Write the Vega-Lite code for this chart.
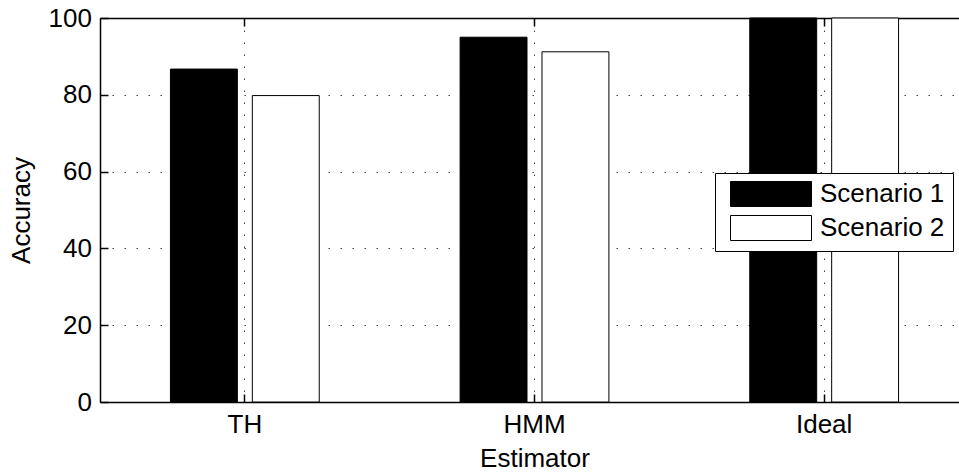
{
  "$schema": "https://vega.github.io/schema/vega-lite/v6.json",
  "width": 859,
  "height": 384,
  "autosize": {"type": "none"},
  "padding": {"left": 100, "top": 18, "right": 0, "bottom": 70},
  "background": "white",
  "config": {
    "view": {"stroke": null},
    "font": "Liberation Sans",
    "axis": {
      "domainColor": "black",
      "domainWidth": 1.5,
      "tickColor": "black",
      "tickWidth": 1.5,
      "labelColor": "black",
      "titleColor": "black",
      "labelFont": "Liberation Sans",
      "titleFont": "Liberation Sans",
      "titleFontWeight": "normal"
    }
  },
  "data": {
    "values": [
      {"Estimator": "TH", "Scenario": "Scenario 1", "Accuracy": 86.7},
      {"Estimator": "TH", "Scenario": "Scenario 2", "Accuracy": 79.8},
      {"Estimator": "HMM", "Scenario": "Scenario 1", "Accuracy": 95.0},
      {"Estimator": "HMM", "Scenario": "Scenario 2", "Accuracy": 91.2},
      {"Estimator": "Ideal", "Scenario": "Scenario 1", "Accuracy": 100},
      {"Estimator": "Ideal", "Scenario": "Scenario 2", "Accuracy": 100}
    ]
  },
  "layer": [
    {
      "mark": {"type": "bar", "stroke": "black", "strokeWidth": 1},
      "encoding": {
        "x": {
          "field": "Estimator",
          "type": "nominal",
          "sort": ["TH", "HMM", "Ideal"],
          "scale": {"range": [0, 869], "paddingInner": 0, "paddingOuter": 0},
          "axis": {
            "orient": "bottom",
            "labelAngle": 0,
            "tickSize": -8,
            "labelPadding": 17.3,
            "labelFontSize": 26,
            "grid": true,
            "gridDash": [1.5, 10.5],
            "gridColor": "#444",
            "gridWidth": 1,
            "title": "Estimator",
            "titleFontSize": 26,
            "titleBaseline": "alphabetic",
            "titleY": 64
          }
        },
        "xOffset": {
          "field": "Scenario",
          "type": "nominal",
          "scale": {"paddingInner": 0.183, "paddingOuter": 0.86}
        },
        "y": {
          "field": "Accuracy",
          "type": "quantitative",
          "scale": {"domain": [0, 100], "nice": false},
          "axis": {
            "values": [0, 20, 40, 60, 80, 100],
            "tickSize": -8,
            "labelPadding": 16.5,
            "labelFontSize": 26,
            "grid": true,
            "gridDash": [1.5, 10.5],
            "gridColor": "#444",
            "gridWidth": 1,
            "title": "Accuracy",
            "titleFontSize": 26,
            "titleBaseline": "alphabetic",
            "titleX": -71
          }
        },
        "color": {
          "field": "Scenario",
          "type": "nominal",
          "scale": {"domain": ["Scenario 1", "Scenario 2"], "range": ["black", "white"]},
          "legend": {
            "orient": "none",
            "legendX": 615,
            "legendY": 155,
            "title": null,
            "fillColor": "white",
            "strokeColor": "black",
            "padding": 8,
            "symbolType": "M-1,-1H5.48V1H-1Z",
            "symbolSize": 625,
            "symbolStrokeColor": "black",
            "symbolStrokeWidth": 1,
            "symbolOpacity": 1,
            "symbolOffset": 7,
            "labelOffset": 64,
            "labelFontSize": 26,
            "labelFont": "Liberation Sans",
            "labelColor": "black",
            "rowPadding": 4
          }
        }
      }
    },
    {
      "mark": {"type": "point", "opacity": 0},
      "encoding": {
        "x": {
          "field": "Estimator",
          "type": "nominal",
          "sort": ["TH", "HMM", "Ideal"],
          "axis": {
            "orient": "top",
            "labels": false,
            "title": null,
            "grid": false,
            "tickSize": -8
          }
        }
      }
    }
  ],
  "resolve": {"axis": {"x": "independent"}}
}
